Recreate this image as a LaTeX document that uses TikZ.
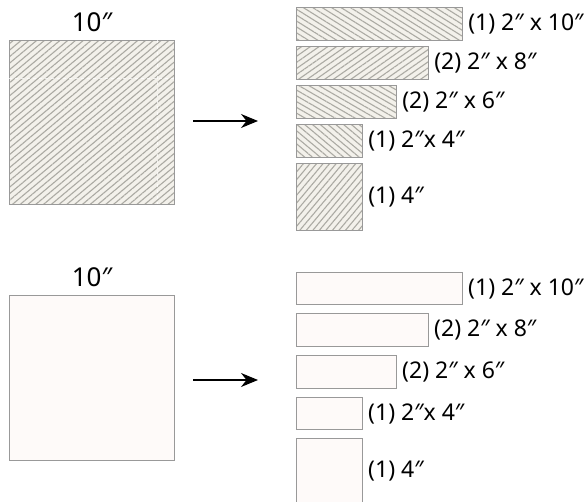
\documentclass[tikz,border=0pt]{standalone}
\usepackage{fontspec}
\setmainfont{Noto Sans}
\usetikzlibrary{arrows.meta, positioning, patterns.meta}

\definecolor{linen}{HTML}{F3F1EB}
\definecolor{stripe}{HTML}{ABAAA3}
\definecolor{blush}{HTML}{FEFAF9}
\definecolor{edge}{HTML}{999999}

\begin{document}
\begin{tikzpicture}[
        x = 1pt, y = -1pt,
        > = {Stealth[length=17pt, width=14pt]}, % arrow head style
        node distance = 5pt, % gap between the cut pieces
        font = \fontsize{23}{26}\selectfont
    ]

    \tikzstyle{piece}=[
        draw = edge,
        line width = 1pt,
        inner sep = 0pt,
        anchor = north west
    ]
    \tikzstyle{plain}=[piece, fill = blush]
    \tikzstyle{striped}=[piece, preaction = {fill = linen}, pattern color = stripe]
    \tikzstyle{size}=[inner sep = 0pt]
    \tikzstyle{width}=[inner sep = 0pt, font = \fontsize{26}{28}\selectfont]

    \useasboundingbox (0,0) rectangle (588,502);

    % printed fabric
    \node[striped, pattern = {Lines[angle=40, distance=5pt, line width=1.1pt]},
        minimum width=165pt, minimum height=164pt] (sq) at (9,40) {};
    \draw[white, dashed, line width=0.8pt, opacity=0.7] (9,78) -- (174,78);
    \draw[white, dashed, line width=0.8pt, opacity=0.7] (157,40) -- (157,204);
    \node[width, above=8pt of sq] (sqt) {10″};

    \node[striped, pattern = {Lines[angle=-32, distance=5pt, line width=1.1pt]},
        minimum width=166pt, minimum height=33pt] (r1) at (296,7) {};
    \node[striped, pattern = {Lines[angle=35, distance=5pt, line width=1.1pt]},
        minimum width=132pt, minimum height=33pt, below=of r1.south west, anchor=north west] (r2) {};
    \node[striped, pattern = {Lines[angle=-30, distance=5pt, line width=1.1pt]},
        minimum width=100pt, minimum height=33pt, below=of r2.south west, anchor=north west] (r3) {};
    \node[striped, pattern = {Lines[angle=-40, distance=5pt, line width=1.1pt]},
        minimum width=66pt, minimum height=33pt, below=of r3.south west, anchor=north west] (r4) {};
    \node[striped, pattern = {Lines[angle=50, distance=5pt, line width=1.1pt]},
        minimum width=66pt, minimum height=67pt, below=of r4.south west, anchor=north west] (r5) {};

    \node[size, right=5pt of r1] (l1) {(1) 2″ x 10″};
    \node[size, right=5pt of r2] (l2) {(2) 2″ x 8″};
    \node[size, right=5pt of r3] (l3) {(2) 2″ x 6″};
    \node[size, right=5pt of r4] (l4) {(1) 2″x 4″};
    \node[size, right=5pt of r5] (l5) {(1) 4″};

    \coordinate (a0) at (193,121);
    \coordinate (a1) at (258,121);
    \draw[->, line width=1.3pt] (a0) -- (a1);

    % plain fabric
    \node[plain, minimum width=165pt, minimum height=165pt] (sqw) at (9,295) {};
    \node[width, above=8pt of sqw] (sqwt) {10″};

    \node[plain, minimum width=166pt, minimum height=32pt] (w1) at (296,272) {};
    \node[plain, minimum width=132pt, minimum height=33pt,
        below=8pt of w1.south west, anchor=north west] (w2) {};
    \node[plain, minimum width=100pt, minimum height=33pt,
        below=8pt of w2.south west, anchor=north west] (w3) {};
    \node[plain, minimum width=66pt, minimum height=32pt,
        below=8pt of w3.south west, anchor=north west] (w4) {};
    \node[plain, minimum width=66pt, minimum height=66pt,
        below=8pt of w4.south west, anchor=north west] (w5) {};

    \node[size, right=5pt of w1] (m1) {(1) 2″ x 10″};
    \node[size, right=5pt of w2] (m2) {(2) 2″ x 8″};
    \node[size, right=5pt of w3] (m3) {(2) 2″ x 6″};
    \node[size, right=5pt of w4] (m4) {(1) 2″x 4″};
    \node[size, right=5pt of w5] (m5) {(1) 4″};

    \coordinate (b0) at (193,380);
    \coordinate (b1) at (258,380);
    \draw[->, line width=1.3pt] (b0) -- (b1);

\end{tikzpicture}
\end{document}
